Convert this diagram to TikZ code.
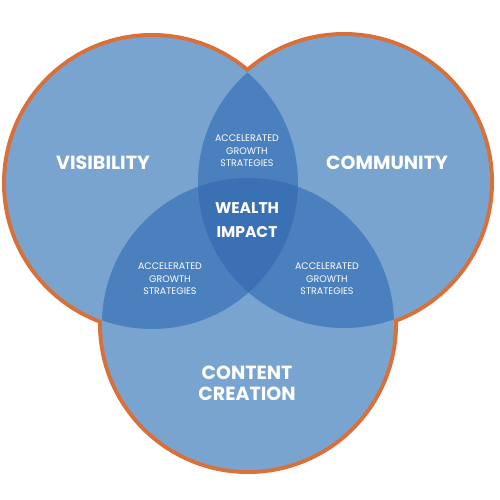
\documentclass[tikz,border=0pt]{standalone}
\usepackage{fontspec}
\setmainfont{Poppins}
\definecolor{blueone}{HTML}{78A4CF}
\definecolor{bluetwo}{HTML}{4A80BE}
\definecolor{bluethree}{HTML}{3A70B4}
\definecolor{rim}{HTML}{D9703A}
\tikzset{
  big/.style={text=white, font=\bfseries\fontsize{19}{21}\selectfont, align=center},
  mid/.style={text=white, font=\bfseries\fontsize{15.5}{24}\selectfont, align=center},
  small/.style={text=white, font=\fontsize{9.5}{12.5}\selectfont, align=center},
}
\begin{document}
\begin{tikzpicture}[x=1pt,y=-1pt]
\useasboundingbox (0,0) rectangle (500,500);
\coordinate (L) at (152,183);
\coordinate (R) at (344,182);
\coordinate (B) at (248,324);
\def\rr{146}
% orange rim
\foreach \c in {L,R,B} \draw[rim, line width=8pt] (\c) circle[radius=\rr];
% single fills
\foreach \c in {L,R,B} \fill[blueone] (\c) circle[radius=\rr];
% double overlaps
\begin{scope}\clip (L) circle[radius=\rr]; \fill[bluetwo] (R) circle[radius=\rr]; \fill[bluetwo] (B) circle[radius=\rr];\end{scope}
\begin{scope}\clip (R) circle[radius=\rr]; \fill[bluetwo] (B) circle[radius=\rr];\end{scope}
% triple overlap
\begin{scope}\clip (L) circle[radius=\rr]; \clip (R) circle[radius=\rr]; \fill[bluethree] (B) circle[radius=\rr];\end{scope}
% labels
\node[big] (vis) at (103,163) {VISIBILITY};
\node[big] (com) at (387,163) {COMMUNITY};
\node[big] (con) at (247,383) {CONTENT\\CREATION};
\node[mid] (wea) at (247,220) {WEALTH\\IMPACT};
\node[small] (agt) at (247,151) {ACCELERATED\\GROWTH\\STRATEGIES};
\node[small] (agl) at (170,279) {ACCELERATED\\GROWTH\\STRATEGIES};
\node[small] (agr) at (327,279) {ACCELERATED\\GROWTH\\STRATEGIES};
\end{tikzpicture}
\end{document}
